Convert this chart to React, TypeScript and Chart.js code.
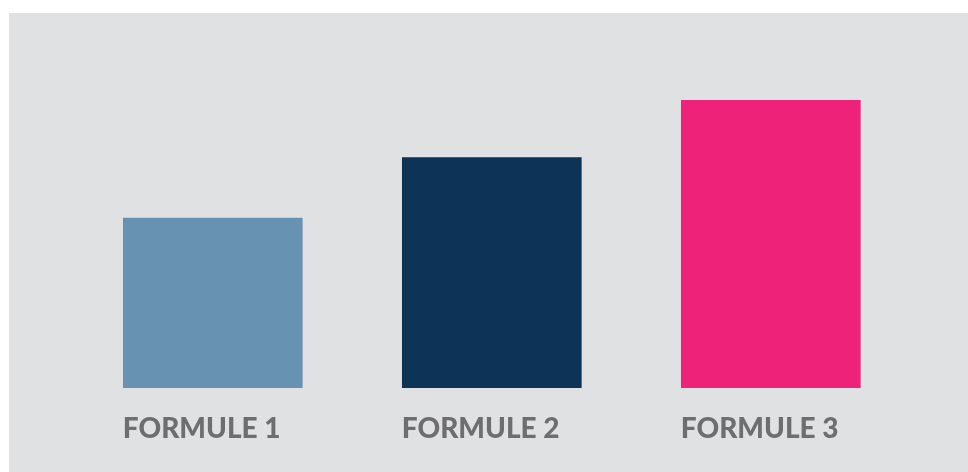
import React, { useEffect, useRef } from "react";
import { Chart, registerables } from "chart.js";

Chart.register(...registerables);

const categories = ["FORMULE 1", "FORMULE 2", "FORMULE 3"];
const values = [59, 80, 100];
const barColors = ["#6792b1", "#0d3356", "#ef2279"];

export default function App() {
  const ref = useRef<HTMLCanvasElement | null>(null);
  useEffect(() => {
    if (!ref.current) return;
    const chart = new Chart(ref.current, {
      type: "bar",
      data: {
        labels: categories,
        datasets: [
          {
            data: values,
            backgroundColor: barColors,
            borderWidth: 0,
            barThickness: 179,
          },
        ],
      },
      options: {
        animation: false,
        responsive: true,
        maintainAspectRatio: false,
        layout: { padding: { left: 64.3, right: 57.7, top: 87, bottom: 2.4 } },
        plugins: { legend: { display: false }, tooltip: { enabled: false } },
        scales: {
          x: {
            grid: { display: false, drawTicks: false },
            border: { display: false },
            ticks: {
              align: "start",
              labelOffset: -90,
              padding: 24,
              color: "#6e6e70",
              font: { family: "Lato", size: 28, weight: "900", lineHeight: 1.2 },
              maxRotation: 0,
              autoSkip: false,
            },
          },
          y: {
            display: false,
            min: 0,
            max: 100,
          },
        },
      },
    });
    return () => chart.destroy();
  }, []);
  return (
    <div
      style={{
        position: "fixed",
        left: 9,
        top: 13,
        width: 959,
        height: 459,
        background: "#e0e1e3",
      }}
    >
      <canvas ref={ref} />
    </div>
  );
}
